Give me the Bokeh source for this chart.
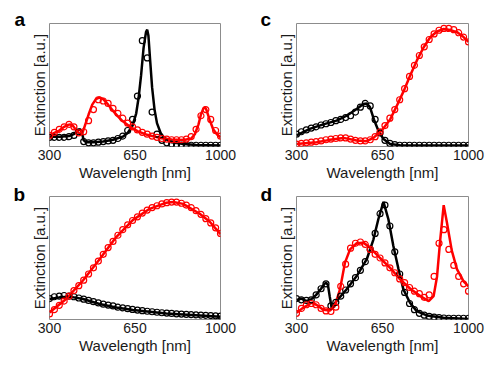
from bokeh.plotting import figure
from bokeh.layouts import column, row
from bokeh.models import Range1d, FixedTicker, Title
from bokeh.embed import file_html
from bokeh.resources import INLINE

# ---- data -------------------------------------------------------------
tick_values = [300, 650, 1000]
wl_pts = [300, 320, 340, 360, 380, 400, 420, 440, 460, 480, 500, 520, 540, 560,
          580, 600, 620, 640, 660, 680, 700, 720, 740, 760, 780, 800, 820, 840,
          860, 880, 900, 920, 940, 960, 980, 1000]

# panel a
a_line_black_x = [300, 340, 380, 400, 415, 425, 432, 440, 450, 480, 520, 560, 600, 620, 640, 655,
                  665, 675, 685, 695, 700, 705, 712, 720, 730, 740, 755, 770, 800, 850, 900, 1000]
a_line_black_y = [0.08, 0.08, 0.085, 0.10, 0.13, 0.14, 0.12, 0.05, 0.035, 0.035, 0.04, 0.055, 0.08,
                  0.11, 0.17, 0.27, 0.40, 0.58, 0.80, 0.93, 0.95, 0.90, 0.70, 0.48, 0.30, 0.19, 0.11,
                  0.07, 0.035, 0.02, 0.012, 0.008]
a_pts_black = [0.075, 0.075, 0.075, 0.075, 0.08, 0.09, 0.12, 0.04, 0.03, 0.03, 0.035, 0.04, 0.045,
               0.05, 0.065, 0.085, 0.13, 0.22, 0.41, 0.86, 0.72, 0.28, 0.10, 0.05, 0.03, 0.02, 0.015,
               0.012, 0.01, 0.01, 0.01, 0.01, 0.01, 0.01, 0.01, 0.01]
a_line_red_x = [300, 320, 340, 360, 375, 385, 395, 410, 425, 435, 445, 460, 475, 490, 505, 520, 540,
                560, 580, 600, 630, 660, 700, 750, 800, 850, 880, 895, 910, 920, 930, 936, 942, 955,
                970, 985, 1000]
a_line_red_y = [0.09, 0.11, 0.13, 0.16, 0.175, 0.18, 0.17, 0.13, 0.10, 0.11, 0.17, 0.26, 0.34, 0.385,
                0.40, 0.385, 0.34, 0.29, 0.245, 0.205, 0.16, 0.125, 0.095, 0.07, 0.057, 0.053, 0.065,
                0.10, 0.18, 0.26, 0.31, 0.32, 0.30, 0.22, 0.14, 0.10, 0.075]
a_pts_red = [0.09, 0.115, 0.14, 0.16, 0.18, 0.16, 0.11, 0.12, 0.21, 0.30, 0.38, 0.37, 0.35, 0.31,
             0.27, 0.23, 0.19, 0.16, 0.135, 0.115, 0.10, 0.085, 0.075, 0.065, 0.06, 0.055, 0.055,
             0.055, 0.06, 0.08, 0.14, 0.25, 0.30, 0.22, 0.13, 0.085]

# panel b
b_line_black_x = [300, 341, 382, 437, 505, 573, 642, 710, 778, 847, 915, 1000]
b_line_black_y = [0.167, 0.18, 0.186, 0.167, 0.126, 0.098, 0.077, 0.063, 0.049, 0.041, 0.033, 0.022]
b_pts_black = [0.17, 0.185, 0.19, 0.195, 0.19, 0.185, 0.175, 0.165, 0.155, 0.145, 0.135, 0.125,
               0.117, 0.11, 0.10, 0.095, 0.088, 0.082, 0.077, 0.072, 0.067, 0.063, 0.059, 0.055,
               0.052, 0.049, 0.046, 0.044, 0.042, 0.04, 0.038, 0.036, 0.034, 0.032, 0.03, 0.028]
b_line_red_x = [300, 368, 437, 505, 573, 642, 710, 778, 806, 847, 915, 956, 1000]
b_line_red_y = [0.057, 0.167, 0.317, 0.49, 0.67, 0.81, 0.90, 0.95, 0.955, 0.94, 0.86, 0.795, 0.694]
b_pts_red = [0.045, 0.08, 0.115, 0.15, 0.19, 0.235, 0.275, 0.32, 0.37, 0.42, 0.475, 0.53, 0.585,
             0.635, 0.685, 0.73, 0.77, 0.805, 0.835, 0.865, 0.89, 0.91, 0.925, 0.94, 0.95, 0.955,
             0.955, 0.945, 0.93, 0.91, 0.885, 0.855, 0.82, 0.785, 0.745, 0.70]

# panel c
c_line_black_x = [300, 354, 409, 463, 504, 545, 572, 586, 599, 615, 633, 654, 681, 722, 800, 1000]
c_line_black_y = [0.09, 0.143, 0.18, 0.21, 0.25, 0.305, 0.346, 0.35, 0.32, 0.22, 0.13, 0.06, 0.02,
                  0.01, 0.008, 0.008]
c_pts_black = [0.10, 0.12, 0.135, 0.15, 0.16, 0.175, 0.185, 0.195, 0.21, 0.22, 0.235, 0.25, 0.28,
               0.32, 0.35, 0.33, 0.22, 0.11, 0.05, 0.025, 0.015, 0.01, 0.01, 0.01, 0.01, 0.01, 0.01,
               0.01, 0.01, 0.01, 0.01, 0.01, 0.01, 0.01, 0.01, 0.01]
c_line_red_x = [300, 382, 436, 491, 545, 586, 613, 647, 681, 708, 736, 763, 790, 817, 845, 872, 899,
                920, 953, 980, 1000]
c_line_red_y = [0.02, 0.035, 0.054, 0.07, 0.049, 0.043, 0.07, 0.13, 0.22, 0.33, 0.45, 0.58, 0.70,
                0.805, 0.89, 0.935, 0.955, 0.95, 0.93, 0.89, 0.85]
c_pts_red = [0.02, 0.025, 0.03, 0.035, 0.04, 0.045, 0.055, 0.06, 0.065, 0.07, 0.07, 0.06, 0.05,
             0.045, 0.045, 0.055, 0.08, 0.12, 0.17, 0.23, 0.30, 0.38, 0.47, 0.57, 0.66, 0.74, 0.81,
             0.87, 0.915, 0.945, 0.96, 0.96, 0.95, 0.925, 0.89, 0.85]

# panel d
d_line_black_x = [300, 320, 341, 361, 380, 400, 412, 420, 428, 435, 443, 463, 504, 545, 586, 613,
                  633, 654, 674, 694, 715, 735, 762, 789, 830, 898, 1000]
d_line_black_y = [0.158, 0.17, 0.15, 0.165, 0.20, 0.25, 0.285, 0.30, 0.28, 0.19, 0.095, 0.15, 0.245,
                  0.353, 0.49, 0.65, 0.815, 0.957, 0.815, 0.60, 0.41, 0.245, 0.136, 0.068, 0.033,
                  0.014, 0.005]
d_pts_black = [0.17, 0.16, 0.155, 0.16, 0.20, 0.25, 0.29, 0.11, 0.14, 0.19, 0.24, 0.29, 0.34, 0.40,
               0.47, 0.57, 0.70, 0.86, 0.93, 0.76, 0.55, 0.37, 0.22, 0.13, 0.08, 0.05, 0.035, 0.025,
               0.02, 0.015, 0.012, 0.01, 0.01, 0.01, 0.01, 0.01]
d_line_red_x = [300, 327, 361, 381, 409, 436, 456, 477, 497, 518, 545, 572, 599, 640, 681, 722, 763,
                804, 838, 858, 872, 885, 899, 912, 932, 953, 980, 1000]
d_line_red_y = [0.054, 0.095, 0.136, 0.12, 0.08, 0.073, 0.11, 0.245, 0.46, 0.57, 0.62, 0.625, 0.585,
                0.50, 0.42, 0.326, 0.25, 0.19, 0.15, 0.19, 0.35, 0.65, 0.93, 0.79, 0.56, 0.41, 0.31,
                0.27]
d_pts_red = [0.05, 0.09, 0.12, 0.13, 0.12, 0.09, 0.07, 0.065, 0.10, 0.27, 0.45, 0.58, 0.62, 0.63,
             0.61, 0.57, 0.53, 0.50, 0.46, 0.42, 0.38, 0.33, 0.30, 0.26, 0.23, 0.21, 0.18, 0.20,
             0.35, 0.62, 0.73, 0.57, 0.44, 0.35, 0.29, 0.23]

# ---- styling ----------------------------------------------------------
FONT = "Liberation Sans"
RED = "#ff0000"
BLACK = "#000000"


def make_title(letter, off, stand):
    kw = dict(text=letter, align="left", vertical_align="bottom", offset=off,
              text_font=FONT, text_font_size="19px", text_font_style="bold",
              text_color="black")
    try:
        return Title(standoff=stand, **kw)
    except Exception:
        return Title(standoff=0, **kw)


def make_panel(letter, lbx, lby, pbk, lrx, lry, prd, fw, mleft, mtop, mright, mbottom,
               t_off, t_stand):
    p = figure(frame_width=fw, frame_height=123,
               x_range=Range1d(300, 1000), y_range=Range1d(0, 1),
               output_backend="svg", toolbar_location=None,
               min_border_left=mleft, min_border_top=mtop,
               min_border_right=mright, min_border_bottom=mbottom,
               background_fill_color="white", border_fill_color="white",
               outline_line_color="#8c8c8c", outline_line_width=1)
    p.title = make_title(letter, t_off, t_stand)
    p.xgrid.visible = False
    p.ygrid.visible = False

    xa = p.xaxis[0]
    xa.ticker = FixedTicker(ticks=tick_values)
    xa.axis_line_color = None
    xa.major_tick_line_color = None
    xa.minor_tick_line_color = None
    xa.major_tick_out = 0
    xa.major_tick_in = 0
    xa.minor_tick_out = 0
    xa.minor_tick_in = 0
    xa.major_label_standoff = 3
    xa.major_label_text_font = FONT
    xa.major_label_text_font_size = "14px"
    xa.major_label_text_color = "#1a1a1a"
    xa.axis_label = "Wavelength [nm]"
    xa.axis_label_text_font = FONT
    xa.axis_label_text_font_size = "15px"
    xa.axis_label_text_font_style = "normal"
    xa.axis_label_text_color = "#1a1a1a"
    xa.axis_label_standoff = 1

    ya = p.yaxis[0]
    ya.ticker = FixedTicker(ticks=[])
    ya.axis_line_color = None
    ya.major_tick_line_color = None
    ya.minor_tick_line_color = None
    ya.major_tick_out = 0
    ya.major_tick_in = 0
    ya.minor_tick_out = 0
    ya.minor_tick_in = 0
    ya.axis_label = "Extinction [a.u.]"
    ya.axis_label_text_font = FONT
    ya.axis_label_text_font_size = "15px"
    ya.axis_label_text_font_style = "normal"
    ya.axis_label_text_color = "#1a1a1a"
    ya.axis_label_standoff = 2

    p.line(lbx, lby, line_color=BLACK, line_width=2.5)
    p.line(lrx, lry, line_color=RED, line_width=2.5)
    p.scatter(wl_pts, pbk, marker="circle", size=6, fill_color=None,
              line_color=BLACK, line_width=1.2)
    p.scatter(wl_pts, prd, marker="circle", size=6, fill_color=None,
              line_color=RED, line_width=1.2)
    return p


pa = make_panel("a", a_line_black_x, a_line_black_y, a_pts_black,
                a_line_red_x, a_line_red_y, a_pts_red, 171, 49, 23, 35, 37, -35, -12)
pc = make_panel("c", c_line_black_x, c_line_black_y, c_pts_black,
                c_line_red_x, c_line_red_y, c_pts_red, 172, 41, 23, 20, 37, -36, -12)
pb = make_panel("b", b_line_black_x, b_line_black_y, b_pts_black,
                b_line_red_x, b_line_red_y, b_pts_red, 171, 49, 13, 35, 37, -36, -16)
pd = make_panel("d", d_line_black_x, d_line_black_y, d_pts_black,
                d_line_red_x, d_line_red_y, d_pts_red, 172, 41, 13, 20, 37, -36, -16)

layout = column(row(pa, pc), row(pb, pd))

open("out.html", "w").write(file_html(layout, INLINE))
